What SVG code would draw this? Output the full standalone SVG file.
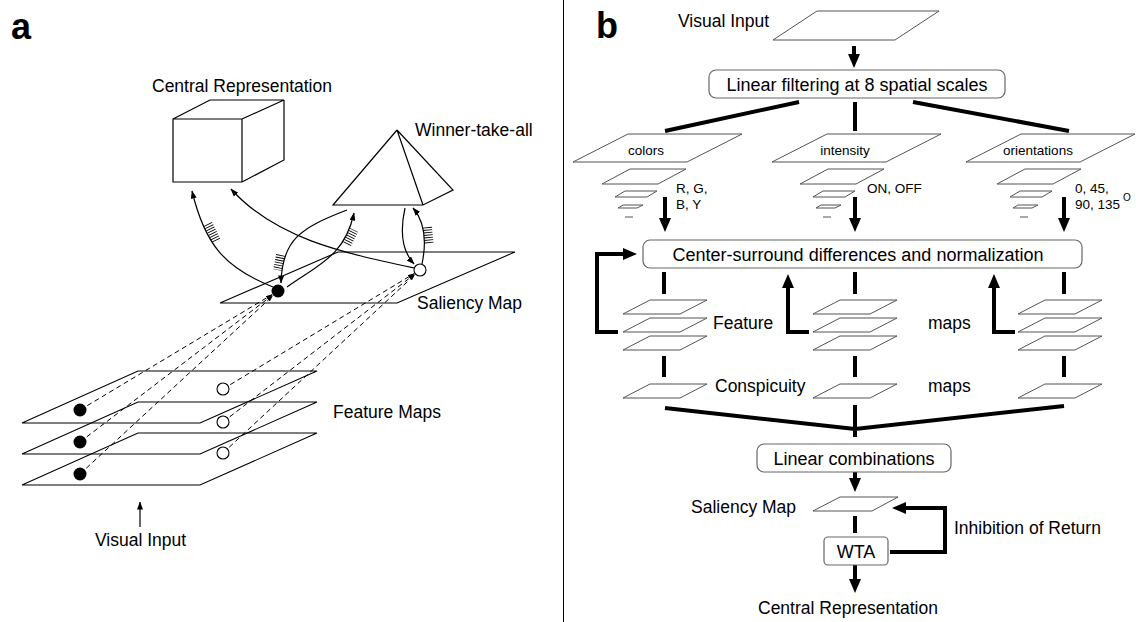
<svg xmlns="http://www.w3.org/2000/svg" width="1136" height="622" viewBox="0 0 1136 622">
<style>
text{font-family:"Liberation Sans",Arial,sans-serif;fill:#000}
.l{font-size:17.5px}
.bx{font-size:18px}
.s{font-size:13.5px}
.big{font-size:36px;font-weight:bold}
.thin{fill:none;stroke:#000;stroke-width:1.2}
.pl{fill:none;stroke:#000;stroke-width:1.1}
.pb{fill:none;stroke:#555;stroke-width:1}
.box{fill:#fff;stroke:#666;stroke-width:1.2}
.thick{fill:none;stroke:#000;stroke-width:4}
.dash{fill:none;stroke:#000;stroke-width:1;stroke-dasharray:5 3.5}
.hatch{fill:none;stroke:#000;stroke-width:9;stroke-dasharray:0.9 1.6}
</style>
<defs>
<marker id="ah" markerUnits="userSpaceOnUse" markerWidth="8" markerHeight="6" viewBox="0 0 8 6" refX="7.5" refY="3" orient="auto"><path d="M0,0 L8,3 L0,6 Z" fill="#000"/></marker>
<marker id="ds" markerUnits="userSpaceOnUse" markerWidth="6" markerHeight="4" viewBox="0 0 6 4" refX="6" refY="2" orient="auto"><path d="M0,0 L6,2 L0,4 Z" fill="#000"/></marker>
<marker id="AH" markerUnits="userSpaceOnUse" markerWidth="14" markerHeight="12" viewBox="0 0 14 12" refX="6" refY="6" orient="auto"><path d="M0,0 L14,6 L0,12 Z" fill="#000"/></marker>
</defs>
<rect width="1136" height="622" fill="#fff"/>
<line x1="563.5" y1="0" x2="563.5" y2="622" stroke="#000" stroke-width="1"/>

<!-- Panel a -->
<g id="panel-a">
<text class="big" x="11" y="39">a</text>
<g id="a-central">
<text class="l" x="152" y="92">Central Representation</text>
<path class="thin" d="M173,119 H242 V182 H173 Z M173,119 L210,100 H284 L242,119 M284,100 V160 L242,182"/>
</g>
<g id="a-wta">
<text class="l" x="415" y="136">Winner-take-all</text>
<path class="thin" d="M397,130 L333,205 H423 L453,190 L397,130 M397,130 L423,205"/>
</g>
<g id="a-saliency">
<text class="l" x="417" y="309">Saliency Map</text>
<path class="pl" d="M220,303 L338,252 H515 L397,303 Z"/>
</g>
<g id="a-features">
<text class="l" x="333" y="418">Feature Maps</text>
<path class="pl" d="M22,423 L138,371 H317 L200,423 Z"/>
<path class="pl" d="M22,454 L138,402 H317 L200,454 Z"/>
<path class="pl" d="M22,485 L138,433 H317 L200,485 Z"/>
</g>
<g id="a-input">
<text class="l" x="95" y="546">Visual Input</text>
</g>
<g id="a-connectors">
<line class="thin" x1="140" y1="527" x2="140" y2="502" marker-end="url(#ah)"/>
<path class="dash" d="M80,410 L272,294.6" marker-end="url(#ds)"/>
<path class="dash" d="M80,442 L272.4,295.2" marker-end="url(#ds)"/>
<path class="dash" d="M80,474 L272.9,295.8" marker-end="url(#ds)"/>
<path class="dash" d="M223,389 L414,273.6" marker-end="url(#ds)"/>
<path class="dash" d="M223,422 L414.5,274.3" marker-end="url(#ds)"/>
<path class="dash" d="M223,453 L414.9,274.8" marker-end="url(#ds)"/>
<path class="thin" d="M273,287 C225,268 205,245 192,191" marker-end="url(#ah)"/>
<path class="thin" d="M414,268 C340,252 275,238 231,189" marker-end="url(#ah)"/>
<path class="thin" d="M347,210 C300,228 282,240 281,283" marker-end="url(#ah)"/>
<path class="thin" d="M287,287 C320,264 345,255 354,213" marker-end="url(#ah)"/>
<path class="thin" d="M405,208 C399,235 403,252 414,264" marker-end="url(#ah)"/>
<path class="thin" d="M422,264 C427,240 425,222 413,208" marker-end="url(#ah)"/>
<path class="hatch" d="M208,224 L217,242"/>
<path class="hatch" d="M280.6,255 L277.6,270"/>
<path class="hatch" d="M347,244 L354,230"/>
<path class="hatch" d="M429,243 L427.3,226"/>
</g>
<g id="a-dots">
<circle cx="80" cy="410" r="6.5" fill="#000"/>
<circle cx="80" cy="442" r="6.5" fill="#000"/>
<circle cx="80" cy="474" r="6.5" fill="#000"/>
<circle cx="278" cy="291" r="6.5" fill="#000"/>
<circle cx="223" cy="389" r="6" fill="#fff" stroke="#000" stroke-width="1.1"/>
<circle cx="223" cy="422" r="6" fill="#fff" stroke="#000" stroke-width="1.1"/>
<circle cx="223" cy="453" r="6" fill="#fff" stroke="#000" stroke-width="1.1"/>
<circle cx="420" cy="270" r="6" fill="#fff" stroke="#000" stroke-width="1.1"/>
</g>
</g>

<!-- Panel b -->
<g id="panel-b">
<text class="big" x="596" y="38">b</text>
<g id="b-connectors">
<line class="thick" x1="854" y1="46" x2="854" y2="60" marker-end="url(#AH)"/>
<line class="thick" x1="799" y1="102" x2="665" y2="131"/>
<line class="thick" x1="855" y1="102" x2="855" y2="131"/>
<line class="thick" x1="913" y1="102" x2="1069" y2="131"/>
<line class="thick" x1="665" y1="197" x2="665" y2="224" marker-end="url(#AH)"/>
<line class="thick" x1="855" y1="197" x2="855" y2="224" marker-end="url(#AH)"/>
<line class="thick" x1="1064" y1="197" x2="1064" y2="224" marker-end="url(#AH)"/>
<path class="thick" d="M618,332 H597 V254 H629" marker-end="url(#AH)"/>
<path class="thick" d="M809,332 H788 V282" marker-end="url(#AH)"/>
<path class="thick" d="M1015,332 H994 V282" marker-end="url(#AH)"/>
<line class="thick" x1="664" y1="272" x2="664" y2="294"/>
<line class="thick" x1="855" y1="272" x2="855" y2="294"/>
<line class="thick" x1="1064" y1="272" x2="1064" y2="294"/>
<line class="thick" x1="664" y1="356" x2="664" y2="377"/>
<line class="thick" x1="855" y1="356" x2="855" y2="377"/>
<line class="thick" x1="1064" y1="356" x2="1064" y2="377"/>
<path class="thick" d="M665,408 L855,429 L1064,406 M855,405 V437"/>
<line class="thick" x1="855" y1="472" x2="855" y2="484" marker-end="url(#AH)"/>
<line class="thick" x1="855" y1="516" x2="855" y2="533"/>
<line class="thick" x1="855" y1="565" x2="855" y2="585" marker-end="url(#AH)"/>
<path class="thick" d="M890,552 H945 V508 H900" marker-end="url(#AH)"/>
</g>
<g id="b-visual-input">
<text class="l" x="678" y="27">Visual Input</text>
<path class="pb" d="M773,40 L817,11 H939 L895,40 Z"/>
</g>
<g id="b-linear-filtering">
<rect class="box" x="709" y="70" width="296" height="28" rx="7"/>
<text class="bx" x="857" y="91" text-anchor="middle">Linear filtering at 8 spatial scales</text>
</g>
<g id="b-colors">
<path class="pb" d="M573,162 L628,134 H742 L687,162 Z"/>
<text class="s" x="646" y="155" text-anchor="middle">colors</text>
<path class="pb" d="M602,184 L630,169 H686 L658,184 Z M615,197 L625,191 H657 L647,197 Z M618,208 L623,205 H643 L637,208 Z M625,217 H633"/>
<text class="s" x="676" y="193">R, G,</text>
<text class="s" x="676" y="209">B, Y</text>
</g>
<g id="b-intensity">
<path class="pb" d="M772,162 L827,134 H941 L886,162 Z"/>
<text class="s" x="845" y="155" text-anchor="middle">intensity</text>
<path class="pb" d="M800,184 L828,169 H884 L856,184 Z M813,197 L823,191 H855 L845,197 Z M816,208 L821,205 H841 L835,208 Z M823,217 H831"/>
<text class="s" x="867" y="193">ON, OFF</text>
</g>
<g id="b-orientations">
<path class="pb" d="M966,162 L1021,134 H1135 L1080,162 Z"/>
<text class="s" x="1038" y="155" text-anchor="middle">orientations</text>
<path class="pb" d="M997,184 L1025,169 H1081 L1053,184 Z M1010,197 L1020,191 H1052 L1042,197 Z M1013,208 L1018,205 H1038 L1032,208 Z M1020,217 H1028"/>
<text class="s" x="1075" y="193">0, 45,</text>
<text class="s" x="1075" y="209">90, 135</text>
<text x="1123" y="201" font-size="10">O</text>
</g>
<g id="b-center-surround">
<rect class="box" x="643" y="240" width="439" height="28" rx="7"/>
<text class="bx" x="858" y="261" text-anchor="middle">Center-surround differences and normalization</text>
</g>
<g id="b-feature-maps">
<path class="pb" d="M623,314 L650,300 H707 L680,314 Z M623,332 L650,318 H707 L680,332 Z M623,350 L650,336 H707 L680,350 Z"/>
<path class="pb" d="M813,314 L840,300 H897 L870,314 Z M813,332 L840,318 H897 L870,332 Z M813,350 L840,336 H897 L870,350 Z"/>
<path class="pb" d="M1018,314 L1045,300 H1102 L1075,314 Z M1018,332 L1045,318 H1102 L1075,332 Z M1018,350 L1045,336 H1102 L1075,350 Z"/>
<text class="l" x="713" y="329">Feature</text>
<text class="l" x="928" y="329">maps</text>
</g>
<g id="b-conspicuity-maps">
<path class="pb" d="M623,398 L650,384 H707 L680,398 Z"/>
<path class="pb" d="M813,398 L840,384 H897 L870,398 Z"/>
<path class="pb" d="M1018,398 L1045,384 H1102 L1075,398 Z"/>
<text class="l" x="715" y="392">Conspicuity</text>
<text class="l" x="928" y="392">maps</text>
</g>
<g id="b-linear-combinations">
<rect class="box" x="757" y="444" width="194" height="28" rx="7"/>
<text class="bx" x="854" y="465" text-anchor="middle">Linear combinations</text>
</g>
<g id="b-saliency">
<path class="pb" d="M813,511 L840,497 H898 L872,511 Z"/>
<text class="l" x="691" y="513">Saliency Map</text>
</g>
<g id="b-wta">
<rect class="box" x="824" y="537" width="64" height="28" rx="4"/>
<text class="bx" x="856" y="558" text-anchor="middle">WTA</text>
</g>
<g id="b-ior">
<text class="l" x="954" y="534">Inhibition of Return</text>
</g>
<g id="b-central">
<text class="l" x="758" y="614">Central Representation</text>
</g>
</g>
</svg>
